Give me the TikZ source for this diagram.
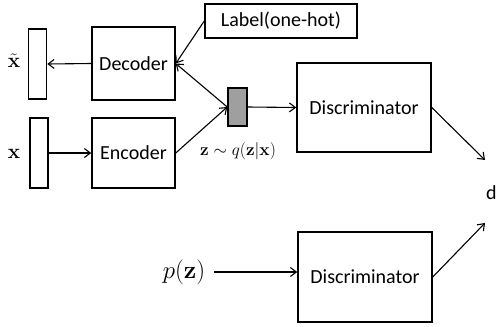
\documentclass[tikz,border=0pt]{standalone}
\usepackage{amsmath}
\usepackage[no-math]{fontspec}
\setmainfont{Carlito}
\usetikzlibrary{arrows.meta}
\begin{document}
\begin{tikzpicture}[x=1pt,y=-1pt,
  blockbox/.style={draw,line width=1.5pt,inner sep=0pt,font=\fontsize{20}{23}\selectfont},
  vecbar/.style={draw,line width=1.5pt,inner sep=0pt,minimum width=18pt},
  conn/.style={line width=1.1pt,-{Straight Barb[length=6pt,width=9pt,line width=1.1pt]}},
  mathlbl/.style={inner sep=0pt}]
\useasboundingbox (0,0) rectangle (496,327);
% latent input / reconstruction vectors
\node[vecbar,minimum height=70pt] (xt) at (37.5,64) {};
\node[vecbar,minimum height=70pt] (x) at (39,153) {};
\node[mathlbl,font=\fontsize{22}{25}\selectfont] (xtl) at (14,61) {$\tilde{\mathbf{x}}$};
\node[mathlbl,font=\fontsize{22}{25}\selectfont] (xl) at (14,154) {$\mathbf{x}$};
% autoencoder blocks
\node[blockbox,minimum width=83pt,minimum height=73pt] (dec) at (133.5,63.5) {Decoder};
\node[blockbox,minimum width=83pt,minimum height=70pt] (enc) at (133.5,153) {Encoder};
\node[blockbox,minimum width=152pt,minimum height=34pt] (lab) at (281,21) {Label(one-hot)};
% latent code
\node[draw,line width=1.5pt,fill=gray!75,minimum width=19pt,minimum height=38pt,inner sep=0pt] (z) at (237.5,107) {};
\node[mathlbl,font=\fontsize{16}{19}\selectfont] (zl) at (238,151) {$\mathbf{z}\sim q(\mathbf{z}|\mathbf{x})$};
% discriminators
\node[blockbox,minimum width=134pt,minimum height=89pt] (d1) at (364,107.5) {Discriminator};
\node[blockbox,minimum width=134pt,minimum height=90pt] (d2) at (365,277) {Discriminator};
\node[mathlbl,font=\fontsize{30}{34}\selectfont] (pz) at (184,272) {$p(\mathbf{z})$};
\node[inner sep=0pt,font=\fontsize{20}{23}\selectfont,anchor=west] (dout) at (486,193) {d};
\coordinate (o1) at (485,160);
\coordinate (o2) at (485,223);
% connectors
\draw[conn] (dec.west) -- (xt.east);
\draw[conn] (x.east) -- (enc.west);
\draw[conn] (enc.east) -- (z.west);
\draw[conn] (z.west) -- (dec.east);
\draw[conn] (lab.west) -- (dec.east);
\draw[conn] (z.east) -- (d1.west);
\draw[conn,shorten <=9pt] (pz.east) -- (pz.east -| d2.west);
\draw[conn] (d1.east) -- (o1);
\draw[conn] (d2.east) -- (o2);
\end{tikzpicture}
\end{document}
